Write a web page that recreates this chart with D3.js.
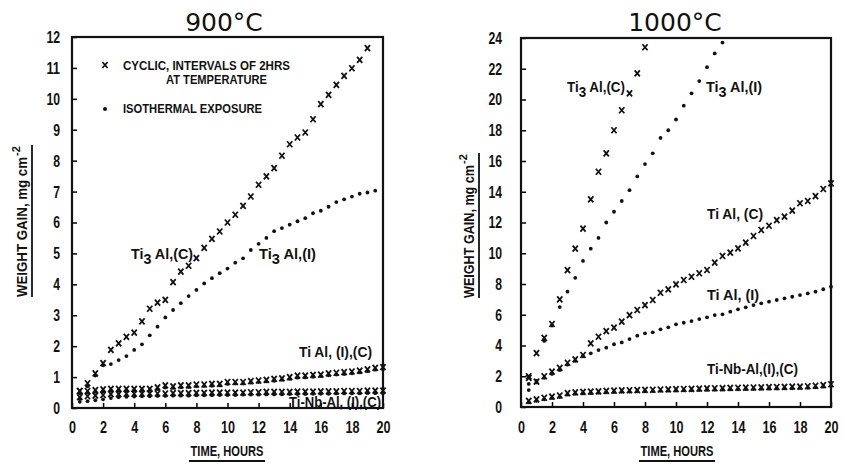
<!DOCTYPE html>
<html>
<head>
<meta charset="utf-8">
<script src="https://cdn.jsdelivr.net/npm/d3@7"></script>
<style>
  body { margin: 0; background: #fff; }
  svg { display: block; }
  text { font-family: "Liberation Sans", Arial, sans-serif; font-weight: bold; fill: #111; }
  .title { font-family: "DejaVu Sans", sans-serif; font-weight: normal; }
</style>
</head>
<body>
<div id="chart"></div>
<script>
// heures de mesure (toutes les 30 min)
var hours = [0.5, 1, 1.5, 2, 2.5, 3, 3.5, 4, 4.5, 5, 5.5, 6, 6.5, 7, 7.5, 8, 8.5, 9, 9.5, 10,
             10.5, 11, 11.5, 12, 12.5, 13, 13.5, 14, 14.5, 15, 15.5, 16, 16.5, 17, 17.5, 18, 18.5, 19, 19.5, 20];
var xTicks = [0, 2, 4, 6, 8, 10, 12, 14, 16, 18, 20];
var yTicks900 = [0, 1, 2, 3, 4, 5, 6, 7, 8, 9, 10, 11, 12];
var yTicks1000 = [0, 2, 4, 6, 8, 10, 12, 14, 16, 18, 20, 22, 24];

// 900 C
var ti3alC_900 = [0.55, 0.80, 1.12, 1.45, 1.88, 2.09, 2.30, 2.44, 2.80, 3.21, 3.41, 3.50, 4.07, 4.41, 4.60, 4.85, 5.18, 5.47, 5.71, 6.00,
                  6.25, 6.54, 6.84, 7.22, 7.49, 7.76, 8.16, 8.53, 8.75, 8.91, 9.34, 9.83, 10.13, 10.45, 10.74, 10.99, 11.26, 11.64];
var ti3alI_900 = [0.30, 0.70, 1.05, 1.38, 1.42, 1.55, 1.68, 1.88, 2.06, 2.35, 2.63, 2.93, 3.17, 3.39, 3.62, 3.82, 4.03, 4.20, 4.36, 4.51,
                  4.70, 4.84, 5.11, 5.31, 5.50, 5.72, 5.82, 5.93, 6.04, 6.14, 6.30, 6.38, 6.51, 6.66, 6.75, 6.84, 6.93, 6.97, 7.03];
var tialC_900 = [0.55, 0.55, 0.58, 0.60, 0.62, 0.62, 0.62, 0.62, 0.62, 0.62, 0.67, 0.73, 0.70, 0.73, 0.73, 0.76, 0.76, 0.78, 0.78, 0.84,
                 0.84, 0.84, 0.87, 0.89, 0.91, 0.94, 0.96, 1.00, 1.05, 1.05, 1.07, 1.08, 1.12, 1.14, 1.16, 1.18, 1.21, 1.25, 1.30, 1.32];
var tialI_900 = [0.48, 0.50, 0.52, 0.54, 0.56, 0.56, 0.57, 0.57, 0.57, 0.58, 0.61, 0.66, 0.65, 0.67, 0.68, 0.70, 0.71, 0.72, 0.73, 0.78,
                 0.79, 0.79, 0.82, 0.84, 0.86, 0.88, 0.91, 0.94, 0.98, 0.99, 1.01, 1.03, 1.06, 1.08, 1.10, 1.12, 1.15, 1.19, 1.24, 1.26];
var tinbalC_900 = [0.35, 0.38, 0.40, 0.42, 0.45, 0.45, 0.46, 0.46, 0.46, 0.47, 0.47, 0.47, 0.48, 0.48, 0.48, 0.49, 0.49, 0.50, 0.50, 0.50,
                   0.50, 0.50, 0.51, 0.51, 0.52, 0.52, 0.52, 0.52, 0.53, 0.53, 0.53, 0.54, 0.54, 0.54, 0.55, 0.55, 0.55, 0.56, 0.56, 0.56];
var tinbalI_900 = [0.20, 0.22, 0.25, 0.28, 0.32, 0.35, 0.36, 0.37, 0.38, 0.38, 0.39, 0.39, 0.40, 0.40, 0.40, 0.41, 0.41, 0.41, 0.42, 0.42,
                   0.42, 0.43, 0.43, 0.43, 0.44, 0.44, 0.44, 0.45, 0.45, 0.45, 0.46, 0.46, 0.46, 0.47, 0.47, 0.47, 0.47, 0.48, 0.48, 0.48];

// 1000 C
var ti3alC_1000 = [2.0, 3.5, 4.5, 5.4, 7.0, 8.9, 10.3, 11.6, 13.5, 15.3, 16.5, 18.0, 19.3, 20.4, 21.7, 23.4];
var ti3alI_1000 = [1.1, 1.7, 4.3, 5.3, 6.5, 7.5, 8.4, 9.5, 10.3, 11.0, 12.0, 12.7, 13.4, 14.1, 15.0, 15.8, 16.5, 17.5, 18.0, 18.7,
                   19.6, 20.4, 21.2, 22.1, 23.0, 23.7];
var tialC_1000 = [1.9, 1.65, 2.0, 2.3, 2.55, 2.88, 3.1, 3.38, 4.14, 4.57, 4.94, 5.16, 5.55, 5.98, 6.31, 6.63, 6.96, 7.43, 7.65, 7.98,
                  8.26, 8.47, 8.7, 8.91, 9.39, 9.82, 10.04, 10.32, 10.69, 11.12, 11.51, 11.79, 12.16, 12.38, 12.77, 13.25, 13.4, 13.72, 14.18, 14.55];
var tialI_1000 = [1.5, 1.6, 1.9, 2.15, 2.4, 2.75, 3.0, 3.3, 3.49, 3.7, 3.86, 4.08, 4.2, 4.42, 4.64, 4.79, 4.86, 5.05, 5.18, 5.38,
                  5.48, 5.59, 5.72, 5.83, 5.98, 6.03, 6.2, 6.35, 6.48, 6.63, 6.74, 6.85, 6.96, 7.07, 7.17, 7.28, 7.39, 7.5, 7.66, 7.82];
var tinbalC_1000 = [0.4, 0.5, 0.6, 0.68, 0.75, 0.9, 0.95, 0.98, 1.0, 1.02, 1.05, 1.06, 1.08, 1.09, 1.1, 1.11, 1.12, 1.14, 1.15, 1.16,
                    1.17, 1.18, 1.2, 1.21, 1.22, 1.23, 1.24, 1.25, 1.26, 1.27, 1.28, 1.29, 1.3, 1.31, 1.32, 1.33, 1.35, 1.38, 1.42, 1.48];
var tinbalI_1000 = [0.3, 0.4, 0.5, 0.58, 0.65, 0.8, 0.86, 0.88, 0.9, 0.92, 0.95, 0.97, 0.99, 1.0, 1.01, 1.02, 1.03, 1.05, 1.06, 1.07,
                    1.08, 1.09, 1.1, 1.11, 1.12, 1.13, 1.14, 1.15, 1.16, 1.17, 1.18, 1.19, 1.2, 1.21, 1.22, 1.23, 1.25, 1.28, 1.32, 1.38];

var svg = d3.select("#chart").append("svg")
    .attr("width", 844)
    .attr("height", 465)
    .style("background", "#fff");

var crossPath = "M-2.6,-3 L2.6,3 M2.6,-3 L-2.6,3";

// chiffres etroits comme sur l'original
function narrow(sel, perChar) {
    sel.each(function() {
        var t = d3.select(this);
        t.attr("textLength", t.text().length * perChar).attr("lengthAdjust", "spacingAndGlyphs");
    });
}

function panel(opt) {
    var x = d3.scaleLinear().domain([0, 20]).range([opt.left, opt.right]);
    var y = d3.scaleLinear().domain([0, opt.yMax]).range([opt.bottom, opt.top]);
    var g = svg.append("g");

    // axes, graduations vers l'interieur
    g.append("g")
        .attr("transform", "translate(" + opt.left + ",0)")
        .call(d3.axisLeft(y).tickValues(opt.yTicks).tickSize(-5).tickSizeOuter(0).tickPadding(opt.yPad))
        .call(a => a.select(".domain").remove())
        .call(a => a.selectAll("text").style("font-size", "17px").attr("fill", "#111").call(narrow, 6.8))
        .call(a => a.selectAll("line").attr("stroke-width", 1.5));
    g.append("g")
        .attr("transform", "translate(0," + opt.bottom + ")")
        .call(d3.axisBottom(x).tickValues(xTicks).tickSize(-5).tickSizeOuter(0).tickPadding(opt.xPad))
        .call(a => a.select(".domain").remove())
        .call(a => a.selectAll("text").style("font-size", "17px").attr("fill", "#111").call(narrow, 7))
        .call(a => a.selectAll("line").attr("stroke-width", 1.5));

    g.append("rect")
        .attr("x", opt.left).attr("y", opt.top)
        .attr("width", opt.right - opt.left).attr("height", opt.bottom - opt.top)
        .attr("fill", "none").attr("stroke", "#111").attr("stroke-width", 2.2);

    opt.series.forEach(function(s) {
        var pts = s.values.map((v, i) => [x(hours[i]), y(v)]);
        if (s.mark == "x") {
            g.append("g").selectAll("path").data(pts).enter().append("path")
                .attr("d", crossPath)
                .attr("transform", d => "translate(" + d[0] + "," + d[1] + ")")
                .attr("stroke", "#111").attr("stroke-width", 1.8).attr("fill", "none");
        } else {
            g.append("g").selectAll("circle").data(pts).enter().append("circle")
                .attr("cx", d => d[0]).attr("cy", d => d[1])
                .attr("r", 1.9).attr("fill", "#111");
        }
    });

    // titre
    g.append("text").attr("class", "title")
        .attr("x", opt.titleX).attr("y", 31)
        .attr("text-anchor", "middle").style("font-size", "25px")
        .text(opt.title);

    // axe x
    g.append("text")
        .attr("x", opt.xLabelX).attr("y", 456)
        .attr("text-anchor", "middle").style("font-size", "15px")
        .attr("textLength", 73).attr("lengthAdjust", "spacingAndGlyphs")
        .text("TIME, HOURS");
    g.append("line")
        .attr("x1", opt.xLabelX - 38).attr("x2", opt.xLabelX + 38)
        .attr("y1", 461).attr("y2", 461)
        .attr("stroke", "#111").attr("stroke-width", 1.8);

    // axe y (texte tourne, de bas en haut)
    g.append("text")
        .attr("transform", "translate(" + opt.yLabelX + "," + opt.yLabelBottom + ") rotate(-90)")
        .style("font-size", "14px")
        .attr("textLength", opt.yLabelLen).attr("lengthAdjust", "spacingAndGlyphs")
        .text("WEIGHT GAIN, mg  cm");
    g.append("text")
        .attr("transform", "translate(" + (opt.yLabelX - 7) + "," + (opt.yLabelBottom - opt.yLabelLen - 1) + ") rotate(-90)")
        .style("font-size", "11px")
        .text("-2");
    g.append("line")
        .attr("x1", opt.yLabelX + 5).attr("x2", opt.yLabelX + 5)
        .attr("y1", opt.yLabelBottom - opt.yLabelLen - 12).attr("y2", opt.yLabelBottom)
        .attr("stroke", "#111").attr("stroke-width", 1.8);

    opt.labels.forEach(function(l) {
        var t = g.append("text").attr("x", l.x).attr("y", l.y).style("font-size", "15px")
            .attr("textLength", l.w).attr("lengthAdjust", "spacingAndGlyphs");
        if (l.sub) {
            t.append("tspan").text("Ti");
            t.append("tspan").attr("dy", 5).text("3");
            t.append("tspan").attr("dy", -5).text(l.text);
        } else {
            t.text(l.text);
        }
    });
    return g;
}

panel({
    left: 72, right: 383, top: 37, bottom: 408, yMax: 12, yTicks: yTicks900, yPad: 12, xPad: 13,
    title: "900°C", titleX: 224, xLabelX: 227, yLabelX: 27, yLabelBottom: 297, yLabelLen: 140,
    series: [
        { values: ti3alC_900, mark: "x" },
        { values: ti3alI_900, mark: "dot" },
        { values: tialC_900, mark: "x" },
        { values: tialI_900, mark: "dot" },
        { values: tinbalC_900, mark: "x" },
        { values: tinbalI_900, mark: "dot" }
    ],
    labels: [
        { x: 131, y: 259, w: 62, text: " Al,(C)", sub: true },
        { x: 259, y: 259, w: 57, text: " Al,(I)", sub: true },
        { x: 299, y: 357, w: 73, text: "Ti Al, (I),(C)" },
        { x: 289, y: 407, w: 92, text: "Ti-Nb-Al, (I),(C)" }
    ]
});

panel({
    left: 521, right: 831, top: 38, bottom: 407, yMax: 24, yTicks: yTicks1000, yPad: 19, xPad: 14,
    title: "1000°C", titleX: 675, xLabelX: 677, yLabelX: 474, yLabelBottom: 298, yLabelLen: 133,
    series: [
        { values: ti3alC_1000, mark: "x" },
        { values: ti3alI_1000, mark: "dot" },
        { values: tialC_1000, mark: "x" },
        { values: tialI_1000, mark: "dot" },
        { values: tinbalC_1000, mark: "x" },
        { values: tinbalI_1000, mark: "dot" }
    ],
    labels: [
        { x: 567, y: 92, w: 58, text: " Al,(C)", sub: true },
        { x: 706, y: 92, w: 56, text: " Al,(I)", sub: true },
        { x: 707, y: 219, w: 56, text: "Ti Al, (C)" },
        { x: 707, y: 300, w: 52, text: "Ti Al, (I)" },
        { x: 707, y: 374, w: 91, text: "Ti-Nb-Al,(I),(C)" }
    ]
});

// legende
var leg = svg.append("g");
leg.append("path").attr("d", crossPath).attr("transform", "translate(105,65)")
    .attr("stroke", "#111").attr("stroke-width", 1.8).attr("fill", "none");
leg.append("text").attr("x", 123).attr("y", 70).style("font-size", "13px")
    .attr("textLength", 167).attr("lengthAdjust", "spacingAndGlyphs")
    .text("CYCLIC, INTERVALS OF 2HRS");
leg.append("text").attr("x", 166).attr("y", 84).style("font-size", "13px")
    .attr("textLength", 101).attr("lengthAdjust", "spacingAndGlyphs")
    .text("AT TEMPERATURE");
leg.append("circle").attr("cx", 105).attr("cy", 109).attr("r", 2).attr("fill", "#111");
leg.append("text").attr("x", 123).attr("y", 113).style("font-size", "13px")
    .attr("textLength", 139).attr("lengthAdjust", "spacingAndGlyphs")
    .text("ISOTHERMAL EXPOSURE");
</script>
</body>
</html>
